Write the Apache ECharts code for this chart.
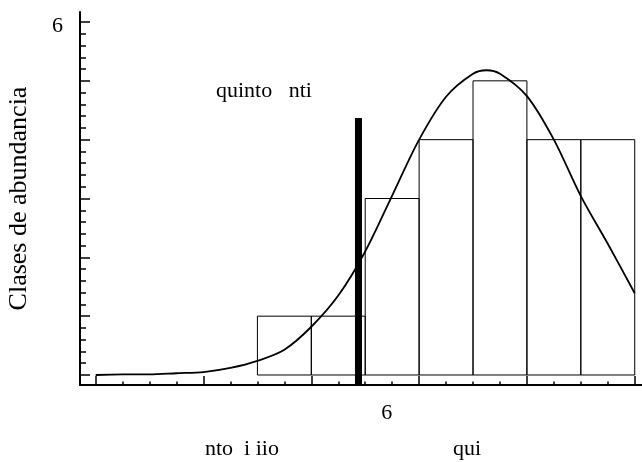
<!DOCTYPE html>
<html>
<head>
<meta charset="utf-8">
<script src="https://cdn.jsdelivr.net/npm/echarts@6/dist/echarts.min.js"></script>
<style>
html,body{margin:0;padding:0;background:#fff;}
#chart{width:642px;height:462px;}
</style>
</head>
<body>
<div id="chart"></div>
<script>
// ---- data ----
var binStart = [6, 8, 10, 12, 14, 16, 18];
var binEnd   = [8, 10, 12, 14, 16, 18, 20];
var binCount = [1, 1, 3, 4, 5, 4, 4];

var curveX = [0, 1, 2, 3, 4, 5, 6, 7, 8, 9, 10, 11, 12, 13, 14, 14.5, 15, 16, 17, 18, 19, 20];
var curveY = [0.00, 0.01, 0.01, 0.03, 0.05, 0.12, 0.24, 0.43, 0.82, 1.35, 2.10, 3.05, 4.00, 4.73, 5.12, 5.18, 5.12, 4.74, 4.00, 3.04, 2.23, 1.39];

var cutoffX = 9.75;
var cutoffTop = 4.37;

var xMajorTicks = [0, 4, 8, 12, 16, 20];
var xMinorTicks = [1, 2, 3, 5, 6, 7, 9, 10, 11, 13, 14, 15, 17, 18, 19];
var xTickLabelValues = [10.8];
var xTickLabelTexts = ['6'];

var yMajorTicks = [0, 1, 2, 3, 4, 5, 6];
var yMinorTicks = [0.2, 0.4, 0.6, 0.8, 1.2, 1.4, 1.6, 1.8, 2.2, 2.4, 2.6, 2.8,
                   3.2, 3.4, 3.6, 3.8, 4.2, 4.4, 4.6, 4.8, 5.2, 5.4, 5.6, 5.8];
var yTickLabelValues = [6];
var yTickLabelTexts = ['6'];

var yTitle = 'Clases de abundancia';
var innerNote = 'quinto   nti';
var bottomLeftText = 'nto  i iio';
var bottomRightText = 'qui';

// ---- chart ----
var FONT = '"Liberation Serif", "Times New Roman", serif';
var X_MIN = -0.583, X_MAX = 20.27, Y_MIN = -0.17, Y_MAX = 6.17;

var binData = binStart.map(function (s, i) { return [s, binEnd[i], binCount[i]]; });
var curveData = curveX.map(function (x, i) { return [x, curveY[i]]; });

var chart = echarts.init(document.getElementById('chart'), null, {renderer: 'canvas'});

function baseX(extra) {
  return Object.assign({
    type: 'value', min: X_MIN, max: X_MAX, position: 'bottom',
    splitLine: {show: false},
    axisLine: {show: false, onZero: false},
    axisTick: {show: false},
    axisLabel: {show: false}
  }, extra);
}
function baseY(extra) {
  return Object.assign({
    type: 'value', min: Y_MIN, max: Y_MAX, position: 'left',
    splitLine: {show: false},
    axisLine: {show: false, onZero: false},
    axisTick: {show: false},
    axisLabel: {show: false}
  }, extra);
}

var option = {
  backgroundColor: '#fff',
  animation: false,
  grid: {left: 80, right: 0, top: 12, bottom: 77, containLabel: false, outerBoundsMode: 'none'},
  xAxis: [
    baseX({
      axisLine: {show: true, onZero: false, lineStyle: {color: '#000', width: 2}},
      axisTick: {show: true, inside: true, length: 9, customValues: xMajorTicks, lineStyle: {color: '#000', width: 1.5}},
      axisLabel: {
        show: true, margin: 17, customValues: xTickLabelValues,
        formatter: function (v) { var i = xTickLabelValues.indexOf(v); return i >= 0 ? xTickLabelTexts[i] : ''; },
        color: '#000', fontFamily: FONT, fontSize: 22
      }
    }),
    baseX({
      axisTick: {show: true, inside: true, length: 3.5, customValues: xMinorTicks, lineStyle: {color: '#000', width: 1.5}}
    })
  ],
  yAxis: [
    baseY({
      name: yTitle, nameLocation: 'middle', nameGap: 48, nameRotate: 90,
      nameTextStyle: {color: '#000', fontFamily: FONT, fontSize: 26},
      axisLine: {show: true, onZero: false, lineStyle: {color: '#000', width: 2}},
      axisTick: {show: true, inside: true, length: 10, customValues: yMajorTicks, lineStyle: {color: '#000', width: 1.5}},
      axisLabel: {
        show: true, margin: 17, customValues: yTickLabelValues,
        verticalAlign: 'top', lineHeight: 8,
        formatter: function (v) { var i = yTickLabelValues.indexOf(v); return i >= 0 ? yTickLabelTexts[i] : ''; },
        color: '#000', fontFamily: FONT, fontSize: 22
      }
    }),
    baseY({
      axisTick: {show: true, inside: true, length: 6, customValues: yMinorTicks, lineStyle: {color: '#000', width: 1.5}}
    })
  ],
  series: [
    {
      type: 'custom', xAxisIndex: 0, yAxisIndex: 0, z: 2,
      data: binData,
      renderItem: function (params, api) {
        var p0 = api.coord([api.value(0), api.value(2)]);
        var p1 = api.coord([api.value(1), 0]);
        return {
          type: 'rect',
          shape: {x: p0[0], y: p0[1], width: p1[0] - p0[0], height: p1[1] - p0[1]},
          style: {fill: 'none', stroke: '#000', lineWidth: 1}
        };
      }
    },
    {
      type: 'line', xAxisIndex: 0, yAxisIndex: 0, z: 3,
      data: curveData, showSymbol: false, symbol: 'none', smooth: 0.3,
      lineStyle: {color: '#000', width: 1.8}
    },
    {
      type: 'custom', xAxisIndex: 0, yAxisIndex: 0, z: 4,
      data: [[cutoffX, cutoffTop]],
      renderItem: function (params, api) {
        var top = api.coord([api.value(0), api.value(1)]);
        var bot = api.coord([api.value(0), Y_MIN]);
        return {
          type: 'rect',
          shape: {x: top[0] - 3.5, y: top[1], width: 7, height: bot[1] - top[1]},
          style: {fill: '#000'}
        };
      }
    }
  ],
  graphic: [
    {type: 'text', x: 216, y: 91, style: {text: innerNote, font: '22px ' + FONT, fill: '#000', textAlign: 'left', textVerticalAlign: 'middle', align: 'left', verticalAlign: 'middle'}},
    {type: 'text', x: 205, y: 449, style: {text: bottomLeftText, font: '22px ' + FONT, fill: '#000', textAlign: 'left', textVerticalAlign: 'middle', align: 'left', verticalAlign: 'middle'}},
    {type: 'text', x: 453, y: 449, style: {text: bottomRightText, font: '22px ' + FONT, fill: '#000', textAlign: 'left', textVerticalAlign: 'middle', align: 'left', verticalAlign: 'middle'}}
  ]
};
chart.setOption(option);
</script>
</body>
</html>
